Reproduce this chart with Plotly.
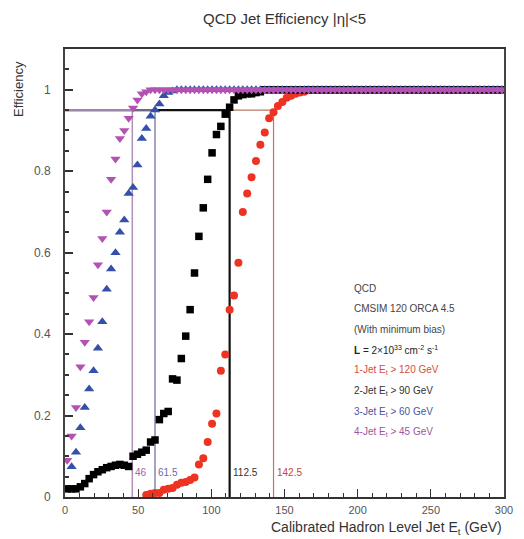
import plotly.graph_objects as go

# bin centres (3 GeV bins)
def grid(start, stop):
    out = []
    v = start
    while v <= stop + 1e-9:
        out.append(round(v, 1))
        v += 3.0
    return out

# 4-Jet Et > 45 GeV
e4 = [1.5, 4.5, 7.5, 10.5, 13.5, 16.5, 19.5, 22.5, 25.5, 28.5, 31.5, 34.5, 37.5, 40.5, 43.5,
      46.5, 49.5, 52.5, 55.5] + grid(58.5, 298.5)
eff4 = [0.09, 0.15, 0.22, 0.32, 0.38, 0.43, 0.49, 0.57, 0.635, 0.70, 0.78, 0.83, 0.88, 0.90, 0.93,
        0.955, 0.975, 0.99, 0.995] + [1.0] * len(grid(58.5, 298.5))

# 3-Jet Et > 60 GeV
e3 = [4.5, 7.5, 10.5, 13.5, 16.5, 19.5, 22.5, 25.5, 28.5, 31.5, 34.5, 37.5, 40.5, 43.5, 46.5,
      49.5, 52.5, 55.5, 58.5, 61.5, 64.5, 67.5, 70.5, 73.5] + grid(76.5, 298.5)
eff3 = [0.074, 0.11, 0.17, 0.22, 0.265, 0.31, 0.365, 0.43, 0.51, 0.56, 0.60, 0.65, 0.68, 0.745, 0.76,
        0.815, 0.88, 0.905, 0.935, 0.95, 0.965, 0.985, 0.993, 0.997] + [1.0] * len(grid(76.5, 298.5))

# 2-Jet Et > 90 GeV
e2 = [1.5, 4.5, 7.5, 10.5, 13.5, 16.5, 19.5, 22.5, 25.5, 28.5, 31.5, 34.5, 37.5, 40.5, 43.5,
      46.5, 49.5, 52.5, 55.5, 58.5, 61.5, 64.5, 67.5, 70.5, 73.5, 76.5, 79.5, 82.5, 85.5, 88.5,
      91.5, 94.5, 97.5, 100.5, 103.5, 106.5, 109.5, 112.5, 115.5, 118.5, 121.5, 124.5, 127.5,
      130.5, 133.5] + grid(136.5, 298.5)
eff2 = [0.02, 0.02, 0.02, 0.025, 0.033, 0.045, 0.055, 0.062, 0.067, 0.072, 0.075, 0.078, 0.08, 0.078, 0.075,
        0.10, 0.105, 0.11, 0.115, 0.135, 0.14, 0.19, 0.205, 0.21, 0.29, 0.287, 0.34, 0.395, 0.46, 0.55,
        0.64, 0.71, 0.78, 0.845, 0.89, 0.91, 0.94, 0.957, 0.975, 0.985, 0.988, 0.99, 0.99,
        0.993, 0.995] + [1.0] * len(grid(136.5, 298.5))

# 1-Jet Et > 120 GeV
e1 = [55.5, 58.5, 61.5, 64.5, 67.5, 70.5, 73.5, 76.5, 79.5, 82.5, 85.5, 88.5, 91.5, 94.5, 97.5,
      100.5, 103.5, 106.5, 109.5, 112.5, 115.5, 118.5, 121.5, 124.5, 127.5, 130.5, 133.5, 136.5,
      139.5, 142.5, 145.5, 148.5, 151.5, 154.5, 157.5, 160.5, 163.5] + grid(166.5, 298.5)
eff1 = [0.005, 0.008, 0.01, 0.01, 0.018, 0.02, 0.022, 0.03, 0.035, 0.037, 0.042, 0.048, 0.08, 0.095, 0.135,
        0.18, 0.205, 0.31, 0.35, 0.46, 0.495, 0.575, 0.70, 0.745, 0.785, 0.825, 0.865, 0.895,
        0.93, 0.945, 0.96, 0.97, 0.98, 0.985, 0.99, 0.993, 0.995] + [1.0] * len(grid(166.5, 298.5))

# 95% efficiency thresholds
level = 0.95
thr_labels = ["142.5", "112.5", "61.5", "46"]
thresholds = [142.5, 112.5, 61.5, 46.0]
thr_colors = ["#b87868", "#111111", "#8888b0", "#b090b8"]
thr_widths = [1.2, 2.2, 1.5, 1.5]
lab_colors = ["#c04838", "#333333", "#6a6aa8", "#a068a8"]

legend_lines = [
    ("QCD", "#444444"),
    ("CMSIM 120 ORCA 4.5", "#444444"),
    ("(With minimum bias)", "#444444"),
    ("<b>L</b> = 2×10<sup>33</sup> cm<sup>-2</sup> s<sup>-1</sup>", "#222222"),
    ("1-Jet E<sub>t</sub> > 120 GeV", "#d05040"),
    ("2-Jet E<sub>t</sub> > 90 GeV", "#333333"),
    ("3-Jet E<sub>t</sub> > 60 GeV", "#4a55a0"),
    ("4-Jet E<sub>t</sub> > 45 GeV", "#a055a0"),
]

FONT = "Liberation Sans, Arial, Helvetica, sans-serif"
PLOT_L, PLOT_R, PLOT_T, PLOT_B = 65, 513, 49, 497

fig = go.Figure()

for t, c, w in zip(thresholds, thr_colors, thr_widths):
    fig.add_trace(go.Scatter(x=[0, t, t], y=[level, level, 0], mode="lines",
                             line=dict(color=c, width=w), hoverinfo="skip", showlegend=False))

fig.add_trace(go.Scatter(x=e1, y=eff1, mode="markers",
                         marker=dict(symbol="circle", size=8, color="#ee3322"), showlegend=False))
fig.add_trace(go.Scatter(x=e2, y=eff2, mode="markers",
                         marker=dict(symbol="square", size=7.5, color="#000000"), showlegend=False))
fig.add_trace(go.Scatter(x=e3, y=eff3, mode="markers",
                         marker=dict(symbol="triangle-up", size=9, color="#3550a8"), showlegend=False))
fig.add_trace(go.Scatter(x=e4, y=eff4, mode="markers",
                         marker=dict(symbol="triangle-down", size=9, color="#b452b4"), showlegend=False))

anns = []
for t, lab, c in zip(thresholds, thr_labels, lab_colors):
    anns.append(dict(x=t, y=0.06, xref="x", yref="y", text=lab, showarrow=False,
                     xanchor="left", xshift=1, font=dict(family=FONT, size=10, color=c)))

for i, (txt, col) in enumerate(legend_lines):
    py = 288 + i * 20.6
    anns.append(dict(x=(358 - PLOT_L) / (PLOT_R - PLOT_L), y=(PLOT_B - py) / (PLOT_B - PLOT_T),
                     xref="paper", yref="paper", text=txt,
                     showarrow=False, xanchor="left", yanchor="middle",
                     font=dict(family=FONT, size=10, color=col)))

anns.append(dict(x=0.5, y=1.0, xref="paper", yref="paper", yshift=31, text="QCD Jet Efficiency |η|<5",
                 showarrow=False, xanchor="center", yanchor="middle",
                 font=dict(family=FONT, size=15, color="#333333")))
anns.append(dict(x=1.0, y=0, xref="paper", yref="paper", yshift=-31,
                 text="Calibrated Hadron Level Jet E<sub>t</sub> (GeV)",
                 showarrow=False, xanchor="right", yanchor="middle",
                 font=dict(family=FONT, size=14, color="#333333")))
anns.append(dict(x=0, y=1.0, xref="paper", yref="paper", xshift=-47, yshift=-40, text="Efficiency",
                 showarrow=False, textangle=-90, xanchor="center", yanchor="middle",
                 font=dict(family=FONT, size=13, color="#333333")))

fig.update_layout(
    width=524, height=539,
    margin=dict(l=PLOT_L, r=524 - PLOT_R, t=PLOT_T, b=539 - PLOT_B),
    paper_bgcolor="white", plot_bgcolor="white",
    annotations=anns,
    font=dict(family=FONT, color="#555555"),
)
fig.update_xaxes(range=[0, 300], tickvals=[0, 50, 100, 150, 200, 250, 300],
                 ticks="inside", ticklen=8, tickwidth=1, tickcolor="#333",
                 minor=dict(dtick=10, ticks="inside", ticklen=4, tickcolor="#333"),
                 showline=True, linecolor="#333", linewidth=1.5, mirror=True,
                 showgrid=False, zeroline=False, ticklabelstandoff=2,
                 tickfont=dict(size=11, color="#555"))
fig.update_yaxes(range=[0, 1.1], tickvals=[0, 0.2, 0.4, 0.6, 0.8, 1.0],
                 ticktext=["0", "0.2", "0.4", "0.6", "0.8", "1"],
                 ticks="inside", ticklen=8, tickwidth=1.5, tickcolor="#333",
                 minor=dict(dtick=0.05, ticks="inside", ticklen=4, tickcolor="#333"),
                 showline=True, linecolor="#444", linewidth=2, mirror=True,
                 showgrid=False, zeroline=False, ticklabelstandoff=10,
                 tickfont=dict(size=12, color="#555"))

fig.write_html("out.html")
